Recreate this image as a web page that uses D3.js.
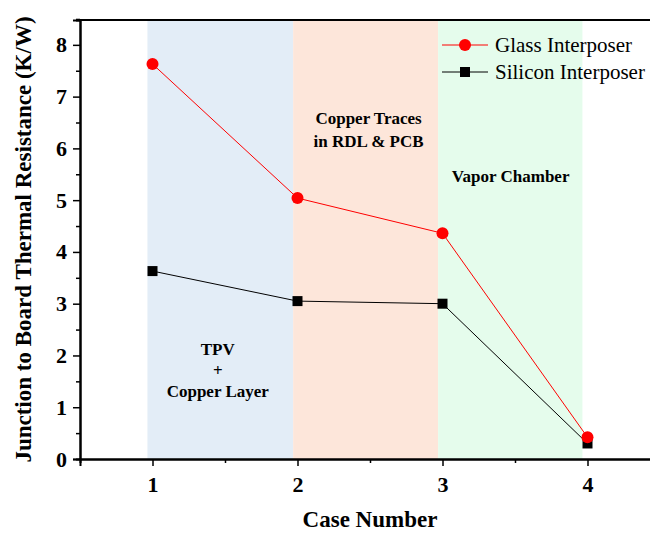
<!DOCTYPE html>
<html>
<head>
<meta charset="utf-8">
<script src="https://cdn.jsdelivr.net/npm/d3@7"></script>
<style>
  body { margin: 0; background: #fff; }
  svg { display: block; font-family: "Liberation Serif", "Times New Roman", serif; }
</style>
</head>
<body>
<svg id="chart" width="650" height="533"></svg>
<script>
// data
const cases = [1, 2, 3, 4];
const glass = [7.63, 5.04, 4.36, 0.42];
const silicon = [3.63, 3.05, 3.0, 0.3];
const yTicks = [0, 1, 2, 3, 4, 5, 6, 7, 8];
const seriesNames = ["Glass Interposer", "Silicon Interposer"];
const bandEdges = [0.965, 1.97, 2.97, 3.965];
const bandColors = ["#e3edf7", "#fde6da", "#e5fcec"];

const svg = d3.select("#chart");
const margin = {left: 80, top: 20, right: -10, bottom: 74};
const W = 650, H = 533;

const x = d3.scaleLinear().domain([0.5, 4.5]).range([margin.left, W - margin.right]);
const y = d3.scaleLinear().domain([0, 8.48]).range([H - margin.bottom, margin.top]);

// shaded regions
svg.append("g").selectAll("rect")
  .data(bandColors)
  .enter().append("rect")
    .attr("x", (d, i) => x(bandEdges[i]))
    .attr("width", (d, i) => x(bandEdges[i + 1]) - x(bandEdges[i]))
    .attr("y", y(8.48))
    .attr("height", y(0) - y(8.48))
    .attr("fill", d => d);

// annotations
const notes = [
  {lines: ["Copper Traces", "in RDL & PCB"], cx: 2.49, cy: 6.48, gap: 23},
  {lines: ["Vapor Chamber"], cx: 3.47, cy: 5.35, gap: 23},
  {lines: ["TPV", "+", "Copper Layer"], cx: 1.45, cy: 2.0, gap: 21}
];
notes.forEach(n => {
  const t = svg.append("text")
    .attr("text-anchor", "middle")
    .style("font-size", "17px")
    .style("font-weight", "bold");
  n.lines.forEach((l, i) => {
    t.append("tspan")
      .attr("x", x(n.cx))
      .attr("y", y(n.cy) + i * n.gap)
      .text(l);
  });
});

// axes
const yAxis = d3.axisLeft(y).tickValues(yTicks).tickSize(7).tickFormat(d3.format("d"));
const yMinor = d3.axisLeft(y).tickValues(yTicks.map(d => d + 0.5)).tickSize(4).tickFormat("");
const xAxis = d3.axisBottom(x).tickValues(cases).tickSize(7).tickFormat(d3.format("d"));
const xMinor = d3.axisBottom(x).tickValues([1.5, 2.5, 3.5]).tickSize(4).tickFormat("");

function styleAxis(g) {
  g.select(".domain").attr("stroke-width", 2);
  g.selectAll(".tick line").attr("stroke-width", 1.5);
  g.selectAll("text")
    .style("font-family", "Liberation Serif, Times New Roman, serif")
    .style("font-size", "22px")
    .style("font-weight", "bold")
    .attr("fill", "#000");
}

svg.append("g").attr("transform", `translate(${margin.left},0)`).call(yMinor).call(styleAxis);
svg.append("g").attr("transform", `translate(${margin.left},0)`).call(yAxis).call(styleAxis)
  .selectAll("text").attr("x", -13);
svg.append("g").attr("transform", `translate(0,${y(0)})`).call(xMinor).call(styleAxis);
svg.append("g").attr("transform", `translate(0,${y(0)})`).call(xAxis).call(styleAxis)
  .selectAll("text").attr("y", 17);

// top frame
svg.append("line")
  .attr("x1", margin.left).attr("x2", W)
  .attr("y1", y(8.48)).attr("y2", y(8.48))
  .attr("stroke", "#000").attr("stroke-width", 2);

// axis titles
svg.append("text")
  .attr("transform", `translate(31,${(y(0) + y(8.48)) / 2}) rotate(-90)`)
  .attr("text-anchor", "middle")
  .style("font-size", "23px")
  .style("font-weight", "bold")
  .text("Junction to Board Thermal Resistance (K/W)");

svg.append("text")
  .attr("x", 370).attr("y", 527)
  .attr("text-anchor", "middle")
  .style("font-size", "23px")
  .style("font-weight", "bold")
  .text("Case Number");

// series
const line = d3.line().x((d, i) => x(cases[i])).y(d => y(d));

svg.append("path").datum(silicon)
  .attr("fill", "none").attr("stroke", "#000").attr("stroke-width", 1)
  .attr("d", line);
svg.append("path").datum(glass)
  .attr("fill", "none").attr("stroke", "#ff0000").attr("stroke-width", 1)
  .attr("d", line);

svg.append("g").selectAll("rect")
  .data(silicon)
  .enter().append("rect")
    .attr("x", (d, i) => x(cases[i]) - 5)
    .attr("y", d => y(d) - 5)
    .attr("width", 10).attr("height", 10)
    .attr("fill", "#000");

svg.append("g").selectAll("circle")
  .data(glass)
  .enter().append("circle")
    .attr("cx", (d, i) => x(cases[i]))
    .attr("cy", d => y(d))
    .attr("r", 6)
    .attr("fill", "#ff0000");

// legend
const legend = svg.append("g").attr("transform", "translate(442,45)");
seriesNames.forEach((name, i) => {
  const g = legend.append("g").attr("transform", `translate(0,${i * 27})`);
  g.append("line").attr("x1", 0).attr("x2", 46)
    .attr("stroke", i == 0 ? "#ff0000" : "#000").attr("stroke-width", 1);
  if (i == 0) {
    g.append("circle").attr("cx", 23).attr("r", 6).attr("fill", "#ff0000");
  } else {
    g.append("rect").attr("x", 18).attr("y", -5).attr("width", 10).attr("height", 10).attr("fill", "#000");
  }
  g.append("text").attr("x", 53).attr("y", 7)
    .style("font-size", "21px")
    .text(name);
});
</script>
</body>
</html>
